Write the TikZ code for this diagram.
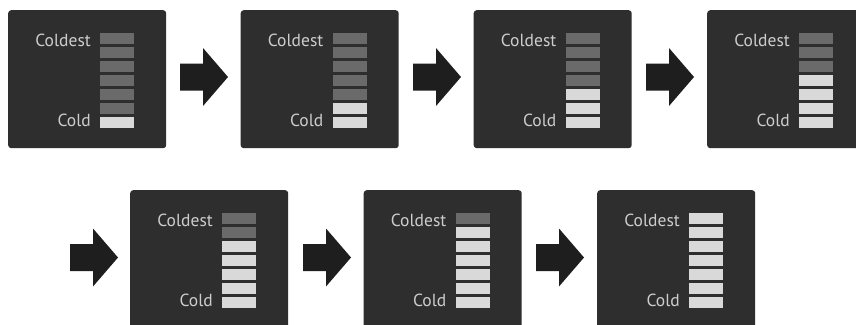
\documentclass[tikz,border=0pt]{standalone}
\usepackage{fontspec}
\setmainfont{PT Sans}
\usetikzlibrary{calc}
\definecolor{panelbg}{HTML}{2E2E2E}
\definecolor{bardark}{HTML}{6A6A6A}
\definecolor{barlight}{HTML}{D9D9D9}
\definecolor{labelcol}{HTML}{CDCDCD}
\definecolor{arrowcol}{HTML}{1E1E1E}
\tikzset{
  panelbox/.style={fill=panelbg, draw=none, rounded corners=3pt, minimum width=158pt, minimum height=138pt, anchor=north west, inner sep=0pt},
  lbl/.style={text=labelcol, font=\fontsize{17.5}{19}\selectfont, anchor=east, inner sep=0pt},
  blockarrow/.style={fill=arrowcol, draw=none}
}
\newcommand{\thermopanel}[4]{%
  % #1 name, #2 x, #3 y, #4 number of light bars
  \node[panelbox] (#1) at (#2,#3) {};
  \node[lbl] (#1-top) at ($(#1.north west)+(83,30)$) {Coldest};
  \node[lbl] (#1-bot) at ($(#1.north west)+(83,110)$) {Cold};
  \foreach \i in {0,...,6}{%
    \pgfmathtruncatemacro{\islight}{\i>=7-#4 ? 1 : 0}%
    \ifnum\islight=1
      \fill[barlight] ($(#1.north west)+(92,23+14*\i)$) rectangle ++(34,10.5);
    \else
      \fill[bardark] ($(#1.north west)+(92,23+14*\i)$) rectangle ++(34,10.5);
    \fi
  }%
}
\newcommand{\blockarr}[3]{%
  % #1 name, #2 left x, #3 center y
  \coordinate (#1) at (#2,#3);
  \fill[blockarrow] ($(#1)+(0,-13.5)$) -- ++(23,0) -- ++(0,-15.5) -- ($(#1)+(48,0)$) -- ($(#1)+(23,29)$) -- ++(0,-15.5) -- ($(#1)+(0,13.5)$) -- cycle;
}
\begin{document}
\begin{tikzpicture}[x=1pt,y=-1pt]
\useasboundingbox (0,0) rectangle (856,324);
\clip (0,0) rectangle (856,324);
\fill[white] (0,0) rectangle (856,324);
\thermopanel{p1}{8}{10}{1}
\thermopanel{p2}{240.5}{10}{2}
\thermopanel{p3}{473.5}{10}{3}
\thermopanel{p4}{707}{10}{4}
\thermopanel{p5}{130}{190}{5}
\thermopanel{p6}{363.5}{190}{6}
\thermopanel{p7}{597}{190}{7}
\blockarr{a1}{180}{77}
\blockarr{a2}{413}{77}
\blockarr{a3}{646}{77}
\blockarr{a4}{70}{257.5}
\blockarr{a5}{303}{257.5}
\blockarr{a6}{536}{257.5}
\end{tikzpicture}
\end{document}
